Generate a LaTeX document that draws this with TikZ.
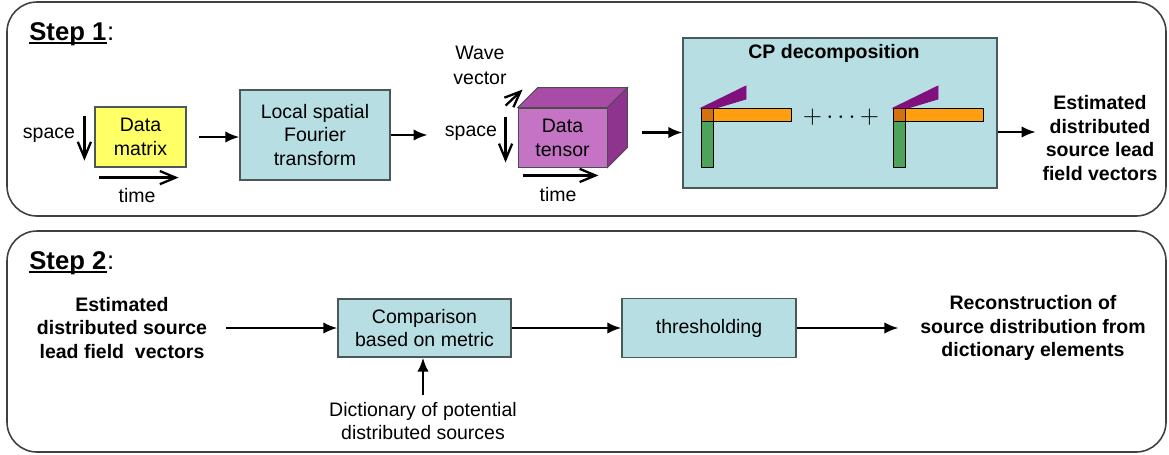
\documentclass[tikz,border=0pt]{standalone}
\usepackage[no-math]{fontspec}
\setmainfont{Liberation Sans}
\usetikzlibrary{positioning,arrows.meta}
\definecolor{boxblue}{HTML}{B7DEE2}
\definecolor{boxgray}{HTML}{4A5858}
\definecolor{panelgray}{HTML}{404040}
\definecolor{datayellow}{HTML}{FFFF66}
\definecolor{cubefront}{HTML}{C574C5}
\definecolor{cubetop}{HTML}{A84CA8}
\definecolor{cubeside}{HTML}{8E338E}
\definecolor{factorgreen}{HTML}{4EA35A}
\definecolor{factororange}{HTML}{FF9E0F}
\definecolor{factormix}{HTML}{D5700F}
\definecolor{factorpurple}{HTML}{80107C}
\tikzset
{
	panel/.style     = {draw=panelgray, line width=0.9pt, rounded corners=0.6cm},
	procbox/.style   = {rectangle, draw=boxgray, fill=boxblue, align=center, line width=0.7pt},
	databox/.style   = {rectangle, draw=boxgray, fill=datayellow, align=center, line width=0.7pt, minimum width=1.82cm, minimum height=1.2cm},
	tensorface/.style = {rectangle, draw=black!70, fill=cubefront, align=center, line width=0.5pt, minimum width=1.78cm, minimum height=1.18cm},
	outtext/.style   = {align=center, font=\bfseries},
	steptitle/.style = {anchor=base west, inner sep=0pt, font=\fontsize{14.6}{17}\selectfont\bfseries},
	bar/.style       = {draw=black, line width=0.5pt},
	flow/.style      = {-{Latex[length=8pt,width=6.5pt]}, line width=1.3pt},
	axis/.style      = {-{Straight Barb[length=9pt,width=7.5pt]}, line width=1.3pt}
}

\begin{document}
\fontsize{11.1}{13.6}\selectfont
\begin{tikzpicture}[x=0.02cm, y=-0.02cm]
\useasboundingbox (0,0) rectangle (1169,454);

% the two steps
\draw[panel] (7,2) rectangle (1166,216);
\draw[panel] (7,231) rectangle (1166,452);

\node[steptitle] (s1) at (29,40) {Step 1};
\node[anchor=base west, inner sep=0pt, font=\fontsize{14.6}{17}\selectfont] (c1) at (s1.base east) {:};
\draw[line width=1.1pt] ([shift={(0,3)}]s1.base west) -- ([shift={(0,3)}]s1.base east);

\node[steptitle] (s2) at (29,269) {Step 2};
\node[anchor=base west, inner sep=0pt, font=\fontsize{14.6}{17}\selectfont] (c2) at (s2.base east) {:};
\draw[line width=1.1pt] ([shift={(0,3)}]s2.base west) -- ([shift={(0,3)}]s2.base east);

% step 1
\node[databox] (matrix) at (140.5,137) {Data\\matrix};
\node (mspace) at (49,135) {space};
\node (mtime) at (137,196) {time};
\draw[axis] ([shift={(-10,10)}]matrix.north west) -- ([shift={(-10,-7)}]matrix.south west);
\draw[axis] ([shift={(5,10)}]matrix.south west) -- ([shift={(-8,10)}]matrix.south east);

\node[procbox, minimum width=3cm, minimum height=1.8cm] (lsft) at (315,135) {Local spatial\\Fourier\\transform};

\node[tensorface] (tensor) at (562.5,137.5) {Data\\tensor};
\fill[cubetop, draw=black!70, line width=0.5pt] (tensor.north west) -- ++(20,-20) -- ([shift={(20,-20)}]tensor.north east) -- (tensor.north east) -- cycle;
\fill[cubeside, draw=black!70, line width=0.5pt] (tensor.north east) -- ++(20,-20) -- ([shift={(20,-20)}]tensor.south east) -- (tensor.south east) -- cycle;
\node (tspace) at (471,133) {space};
\node (ttime) at (558,195) {time};
\node[align=center, font=\fontsize{11.1}{14.2}\selectfont] (wave) at (480,65) {Wave\\vector};
\draw[axis] ([shift={(-12,9)}]tensor.north west) -- ([shift={(-12,-5)}]tensor.south west);
\draw[axis] ([shift={(5,8)}]tensor.south west) -- ([shift={(-9,8)}]tensor.south east);
\draw[axis] ([shift={(-12,-2)}]tensor.north west) -- ([shift={(5,-18)}]tensor.north west);

\node[procbox, minimum width=6.28cm, minimum height=3cm] (cp) at (840,113) {};
\node[font=\bfseries] (cptitle) at (834,53) {CP decomposition};
\foreach \dx in {0,192}
{
	\filldraw[bar, fill=factorgreen] (701+\dx,108) rectangle (713+\dx,167);
	\filldraw[bar, fill=factororange] (701+\dx,108) rectangle (791+\dx,121);
	\filldraw[bar, fill=factormix] (701+\dx,108) rectangle (713+\dx,121);
	\filldraw[bar, draw=factorpurple, fill=factorpurple] (701+\dx,108) -- (746+\dx,86) -- (746+\dx,99) -- (716+\dx,108) -- cycle;
}
\node[font=\fontsize{15.5}{18}\selectfont] (dots) at (841,117) {$+\cdots+$};

\node[outtext] (out1) at (1100,138) {Estimated\\distributed\\source lead\\field vectors};

\draw[flow, shorten <=0.24cm] (matrix.east) -- (matrix.east -| lsft.west);
\draw[flow, shorten >=0.21cm] (lsft.east) -- (lsft.east -| tspace.west);
\coordinate (tout) at ([shift={(35,-5)}]tensor.east);
\draw[flow] (tout) -- (tout -| cp.west);
\coordinate (cpout) at ([shift={(0,19)}]cp.east);
\draw[flow] (cpout) -- (cpout -| out1.west);

% step 2
\node[outtext] (in2) at (122,328) {Estimated\\distributed source\\lead field\ \ vectors};
\node[procbox, minimum width=3.46cm, minimum height=1.16cm] (comp) at (424.5,328) {Comparison\\based on metric};
\node[procbox, minimum width=3.48cm, minimum height=1.18cm] (thr) at (709,328) {thresholding};
\node[outtext] (out2) at (1033,328) {Reconstruction of\\source distribution from\\dictionary elements};
\node[align=center] (dict) at (423,421) {Dictionary of potential\\distributed sources};

\draw[flow, shorten <=0.25cm] (in2) -- (comp);
\draw[flow] (comp) -- (thr);
\draw[flow, shorten >=0.3cm] (thr) -- (out2);
\draw[flow] (dict.north) -- (dict.north |- comp.south);
\end{tikzpicture}
\end{document}
